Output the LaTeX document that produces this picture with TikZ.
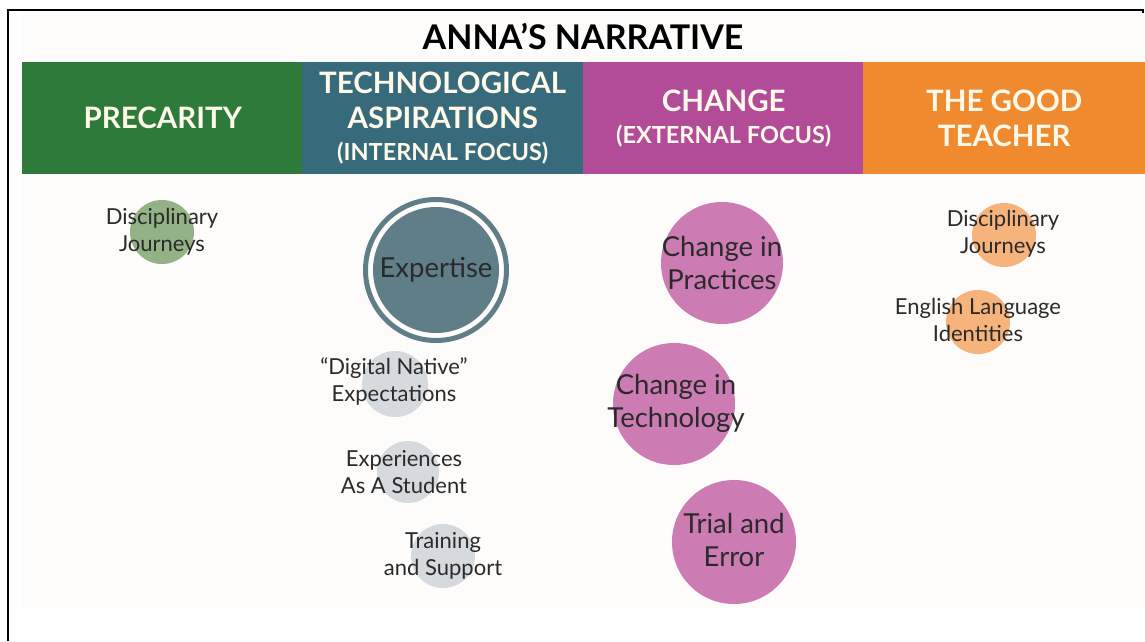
\documentclass[tikz,border=0pt]{standalone}
\usepackage{fontspec}
\setmainfont{Lato}
\usetikzlibrary{positioning}

\definecolor{precgreen}{HTML}{2E7A3B}
\definecolor{techteal}{HTML}{376B7B}
\definecolor{chgmag}{HTML}{B24C98}
\definecolor{goodorange}{HTML}{F08A2E}
\definecolor{softgreen}{HTML}{93B386}
\definecolor{ringteal}{HTML}{5F7E88}
\definecolor{softgrey}{HTML}{D6D9DD}
\definecolor{softmag}{HTML}{CD7CB3}
\definecolor{softorange}{HTML}{F6B47C}
\definecolor{headtext}{HTML}{FFF9EA}
\definecolor{paper}{HTML}{FDFCFA}
\definecolor{labeltext}{HTML}{2A2A2A}

\newcommand{\subhead}{\bfseries\fontsize{23.5}{26}\selectfont}

\tikzset{
  band/.style={anchor=north west,minimum width=281,minimum height=112,inner sep=0,
    text=headtext,align=center,font=\bfseries\fontsize{29.5}{35}\selectfont},
  bubble/.style={circle,inner sep=0,draw=none},
  lbl/.style={text=labeltext,align=center,font=\fontsize{22}{27}\selectfont},
  biglbl/.style={text=labeltext,align=center,font=\fontsize{27.5}{33}\selectfont}
}

\begin{document}
\begin{tikzpicture}[x=1pt,y=-1pt]
\useasboundingbox (0,0) rectangle (1145,641);
\fill [paper] (22,11) rectangle (1145,608);
% frame
\draw [line width=1.5] (8,641) -- (8,10) -- (1143,10) -- (1143,13);

\node (title) [font=\bfseries\fontsize{34}{36}\selectfont] at (583,37) {ANNA’S NARRATIVE};

% bandeau
\node (precarity) [band,fill=precgreen] at (22,62) {PRECARITY};
\node (techasp) [band,fill=techteal] at (302,62) {TECHNOLOGICAL\\ASPIRATIONS\\[-3pt]{\subhead (INTERNAL FOCUS)}};
\node (change) [band,fill=chgmag] at (583,62) {CHANGE\\[-3pt]{\subhead (EXTERNAL FOCUS)}};
\node (goodteach) [band,fill=goodorange,minimum width=282] at (863,62) {THE GOOD\\TEACHER};

% precarity
\node (djA) [bubble,fill=softgreen,minimum size=64] at (162,232) {};
\node (djAtext) [lbl] at (djA) {Disciplinary\\Journeys};

% technological aspirations
\draw [ringteal,line width=5] (436,270) circle (70.5);
\node (expertise) [bubble,fill=ringteal,minimum size=126] at (436,270) {};
\node (expertisetext) [biglbl] at (expertise) {Expertise};
\node (native) [bubble,fill=softgrey,minimum size=66] at (395,384) {};
\node (nativetext) [lbl] at (394,381) {“Digital Native”\\Expectations};
\node (student) [bubble,fill=softgrey,minimum size=62] at (408,472) {};
\node (studenttext) [lbl] at (404,472) {Experiences\\As A Student};
\node (training) [bubble,fill=softgrey,minimum size=64] at (443,556) {};
\node (trainingtext) [lbl] at (443,556) {Training\\and Support};

% change
\node (practices) [bubble,fill=softmag,minimum size=122] at (722,263) {};
\node (practicestext) [biglbl] at (practices) {Change in\\Practices};
\node (technology) [bubble,fill=softmag,minimum size=122] at (674,404) {};
\node (technologytext) [biglbl] at (676,403) {Change in\\Technology};
\node (trial) [bubble,fill=softmag,minimum size=124] at (734,542) {};
\node (trialtext) [biglbl] at (734,540) {Trial and\\Error};

% the good teacher
\node (djB) [bubble,fill=softorange,minimum size=64] at (1004,235) {};
\node (djBtext) [lbl] at (1003,234) {Disciplinary\\Journeys};
\node (english) [bubble,fill=softorange,minimum size=64] at (978,322) {};
\node (englishtext) [lbl] at (978,320) {English Language\\Identities};
\end{tikzpicture}
\end{document}
